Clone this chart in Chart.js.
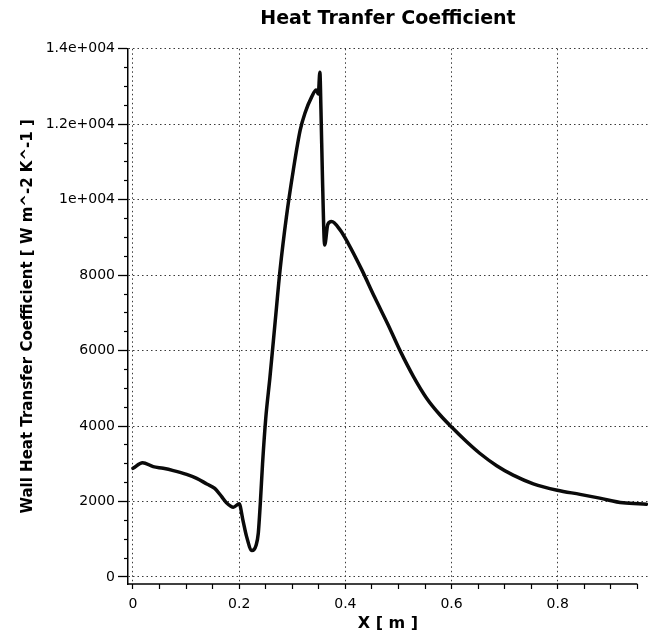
<!DOCTYPE html>
<html>
<head>
<meta charset="utf-8">
<script src="https://cdn.jsdelivr.net/npm/chart.js@4.4.1/dist/chart.umd.min.js"></script>
<style>
  html, body { margin: 0; padding: 0; background: #ffffff; }
  #c { display: block; }
</style>
</head>
<body>
<canvas id="c" width="648" height="635"></canvas>
<script>
// ---- chart text ----
const chartTitle = 'Heat Tranfer Coefficient';
const xAxisTitle = 'X [ m ]';
const yAxisTitle = 'Wall Heat Transfer Coefficient [ W m^-2 K^-1 ]';

// ---- series ----
const xPositions = [
  0.000, 0.018, 0.038, 0.057, 0.076, 0.101, 0.120, 0.139, 0.154, 0.167,
  0.176, 0.189, 0.200, 0.207, 0.214, 0.224, 0.232, 0.236, 0.240, 0.244,
  0.250, 0.258, 0.268, 0.277, 0.289, 0.302, 0.315, 0.324, 0.337, 0.345,
  0.349, 0.352, 0.354, 0.357, 0.361, 0.367, 0.374, 0.390, 0.405, 0.431,
  0.455, 0.480, 0.503, 0.528, 0.553, 0.578, 0.601, 0.628, 0.653, 0.685,
  0.716, 0.754, 0.799, 0.842, 0.879, 0.923, 0.967
];
const heatTransfer = [
  2880, 3030, 2925, 2880, 2820, 2720, 2615, 2465, 2350, 2130,
  1970, 1850, 1940, 1510, 1070, 700, 850, 1160, 2000, 3000,
  4200, 5300, 6800, 8140, 9550, 10790, 11850, 12300, 12740, 12910,
  12800, 13380, 12400, 10500, 8800, 9350, 9420, 9200, 8850, 8140,
  7420, 6700, 6000, 5320, 4740, 4300, 3960, 3590, 3280, 2950,
  2700, 2470, 2300, 2190, 2090, 1965, 1930
];

// ---- axis ticks ----
const xMajorTicks = [0, 0.2, 0.4, 0.6, 0.8];
const xTickLabels = ['0', '0.2', '0.4', '0.6', '0.8'];
const xMinorTicks = [0.05, 0.1, 0.15, 0.25, 0.3, 0.35, 0.45, 0.5, 0.55, 0.65, 0.7, 0.75, 0.85, 0.9, 0.95];
const yMajorTicks = [0, 2000, 4000, 6000, 8000, 10000, 12000, 14000];
const yTickLabels = ['0', '2000', '4000', '6000', '8000', '1e+004', '1.2e+004', '1.4e+004'];
const yMinorTicks = [500, 1000, 1500, 2500, 3000, 3500, 4500, 5000, 5500, 6500, 7000, 7500,
  8500, 9000, 9500, 10500, 11000, 11500, 12500, 13000, 13500];
const xAxisEnd = 0.95;

const points = xPositions.map((x, i) => ({ x: x, y: heatTransfer[i] }));

function isMajor(list, v) {
  return list.some(m => Math.abs(m - v) < 1e-9);
}

const axisLinePlugin = {
  id: 'axisLine',
  afterDraw(chart) {
    const xs = chart.scales.x;
    const ctx = chart.ctx;
    const y = chart.chartArea.bottom;
    ctx.save();
    ctx.strokeStyle = '#000';
    ctx.lineWidth = 1.5;
    ctx.beginPath();
    ctx.moveTo(chart.chartArea.left, y);
    ctx.lineTo(xs.getPixelForValue(xAxisEnd), y);
    ctx.stroke();
    ctx.restore();
  }
};

Chart.defaults.font.family = "'DejaVu Sans', Verdana, sans-serif";
Chart.defaults.color = '#000';

const Y_MIN = -186, Y_MAX = 14000;

new Chart(document.getElementById('c'), {
  type: 'line',
  data: {
    datasets: [{
      data: points,
      borderColor: '#0a0a0a',
      borderWidth: 3.5,
      pointRadius: 0,
      cubicInterpolationMode: 'monotone',
      fill: false,
      borderJoinStyle: 'round',
      borderCapStyle: 'round'
    }]
  },
  options: {
    responsive: false,
    animation: false,
    devicePixelRatio: 1,
    layout: { padding: 0 },
    plugins: {
      legend: { display: false },
      tooltip: { enabled: false },
      title: {
        display: true,
        text: chartTitle,
        fullSize: false,
        color: '#000',
        font: { family: "'DejaVu Sans', sans-serif", size: 19, weight: 'bold' },
        padding: { top: 8, bottom: 18 }
      }
    },
    scales: {
      x: {
        type: 'linear',
        min: -0.0094,
        max: 0.97,
        afterBuildTicks: (scale) => {
          scale.ticks = xMajorTicks.concat(xMinorTicks).sort((a, b) => a - b).map(v => ({ value: v }));
        },
        afterFit: (scale) => { scale.height = 51; },
        ticks: {
          autoSkip: false,
          maxRotation: 0,
          minRotation: 0,
          padding: 7,
          font: { size: 14 },
          color: '#000',
          callback: (v) => {
            const i = xMajorTicks.findIndex(m => Math.abs(m - v) < 1e-9);
            return i >= 0 ? xTickLabels[i] : '';
          }
        },
        grid: {
          color: (ctx) => (ctx.tick && isMajor(xMajorTicks, ctx.tick.value)) ? '#3a3a3a' : 'rgba(0,0,0,0)',
          lineWidth: 1,
          tickColor: '#000',
          tickLength: 5,
          tickWidth: 1.2
        },
        border: { display: false, dash: [1.5, 3] },
        title: {
          display: true,
          text: xAxisTitle,
          color: '#000',
          font: { family: "'DejaVu Sans', sans-serif", size: 16, weight: 'bold' },
          padding: { top: 0, bottom: 2 }
        }
      },
      y: {
        type: 'linear',
        position: 'left',
        weight: 1,
        min: Y_MIN,
        max: Y_MAX,
        afterBuildTicks: (scale) => {
          scale.ticks = yMajorTicks.map(v => ({ value: v }));
        },
        afterFit: (scale) => { scale.width = 128; },
        ticks: {
          autoSkip: false,
          padding: 3,
          font: { size: 14 },
          color: '#000',
          callback: (v) => {
            const i = yMajorTicks.findIndex(m => Math.abs(m - v) < 1e-6);
            return i >= 0 ? yTickLabels[i] : '';
          }
        },
        grid: {
          color: '#3a3a3a',
          lineWidth: 1,
          tickColor: '#000',
          tickLength: 10,
          tickWidth: 1.3
        },
        border: { display: true, color: '#000', width: 1.5, dash: [1.5, 3] },
        title: {
          display: true,
          text: yAxisTitle,
          color: '#000',
          font: { family: "'DejaVu Sans', sans-serif", size: 15, weight: 'bold' },
          padding: { top: 19, bottom: 0 }
        }
      },
      yMinor: {
        type: 'linear',
        position: 'left',
        weight: 0,
        display: true,
        min: Y_MIN,
        max: Y_MAX,
        afterBuildTicks: (scale) => {
          scale.ticks = yMinorTicks.map(v => ({ value: v }));
        },
        afterFit: (scale) => { scale.width = 0; },
        ticks: {
          autoSkip: false,
          padding: 0,
          callback: () => ''
        },
        grid: {
          drawOnChartArea: false,
          tickColor: '#000',
          tickLength: 4,
          tickWidth: 1.2
        },
        border: { display: false }
      }
    }
  },
  plugins: [axisLinePlugin]
});
</script>
</body>
</html>
